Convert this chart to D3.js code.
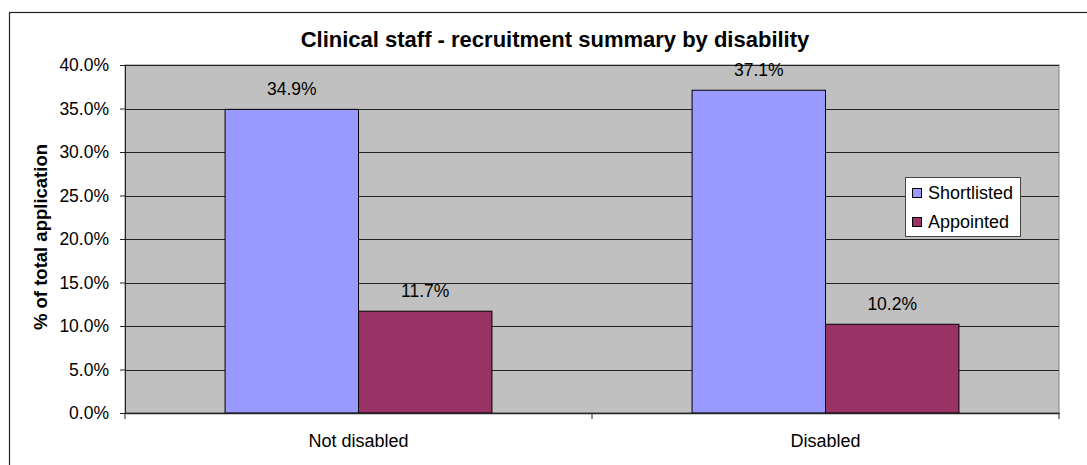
<!DOCTYPE html>
<html>
<head>
<meta charset="utf-8">
<script src="https://cdn.jsdelivr.net/npm/d3@7"></script>
<style>
  body { margin: 0; background: #fff; }
  text { font-family: "Liberation Sans", Arial, sans-serif; }
</style>
</head>
<body>
<div id="chart"></div>
<script>
// Chart data
var categories = ['Not disabled', 'Disabled'];
var seriesNames = ['Shortlisted', 'Appointed'];
var shortlisted = [0.349, 0.371];
var appointed = [0.117, 0.102];
var yTicks = [0, 0.05, 0.10, 0.15, 0.20, 0.25, 0.30, 0.35, 0.40];
var colors = ['#9999FF', '#993366'];

var values = [shortlisted, appointed];

var svg = d3.select('#chart')
  .append('svg')
  .attr('width', 1087)
  .attr('height', 465);

// Chart area border (runs off the right and bottom edges)
svg.append('rect')
  .attr('x', 9.5)
  .attr('y', 12.5)
  .attr('width', 1200)
  .attr('height', 600)
  .attr('fill', 'none')
  .attr('stroke', '#222')
  .attr('stroke-width', 1.2);

var plot = { left: 125, right: 1059, top: 65, bottom: 413 };

// Scales
var x = d3.scaleBand()
  .domain(categories)
  .range([plot.left, plot.right])
  .paddingInner(0)
  .paddingOuter(0);

var xInner = d3.scaleBand()
  .domain(seriesNames)
  .range([0, x.bandwidth()])
  .paddingInner(0)
  .paddingOuter(0.75);

var y = d3.scaleLinear()
  .domain([0, 0.4])
  .range([plot.bottom, plot.top]);

// Plot background
svg.append('rect')
  .attr('x', plot.left)
  .attr('y', plot.top)
  .attr('width', plot.right - plot.left)
  .attr('height', plot.bottom - plot.top)
  .attr('fill', '#C0C0C0')
  .attr('stroke', '#808080')
  .attr('stroke-width', 1);

// Gridlines
svg.append('g')
  .selectAll('line')
  .data(yTicks.slice(1))
  .enter()
  .append('line')
  .attr('x1', plot.left)
  .attr('x2', plot.right)
  .attr('y1', function(d) { return Math.round(y(d)) + 0.5; })
  .attr('y2', function(d) { return Math.round(y(d)) + 0.5; })
  .attr('stroke', '#222')
  .attr('stroke-width', 1);

// Bars
var groups = svg.append('g')
  .selectAll('g')
  .data(seriesNames)
  .enter()
  .append('g')
  .attr('fill', function(d, i) { return colors[i]; });

groups.selectAll('rect')
  .data(function(s, i) {
    return categories.map(function(c, j) { return { cat: c, series: s, value: values[i][j] }; });
  })
  .enter()
  .append('rect')
  .attr('x', function(d) { return x(d.cat) + xInner(d.series); })
  .attr('y', function(d) { return y(d.value); })
  .attr('width', xInner.bandwidth())
  .attr('height', function(d) { return y(0) - y(d.value); })
  .attr('stroke', '#000')
  .attr('stroke-width', 1);

// Value labels
groups.selectAll('.value-label')
  .data(function(s, i) {
    return categories.map(function(c, j) { return { cat: c, series: s, value: values[i][j] }; });
  })
  .enter()
  .append('text')
  .attr('class', 'value-label')
  .attr('x', function(d) { return x(d.cat) + xInner(d.series) + xInner.bandwidth() / 2; })
  .attr('y', function(d) { return y(d.value) - 14; })
  .attr('text-anchor', 'middle')
  .attr('fill', '#000')
  .style('font-size', '17.5px')
  .text(function(d) { return d3.format('.1%')(d.value); });

// Y axis
var yAxis = svg.append('g')
  .attr('transform', 'translate(' + plot.left + ',0)')
  .call(d3.axisLeft(y)
    .tickValues(yTicks)
    .tickFormat(d3.format('.1%'))
    .tickSize(5)
    .tickPadding(11));
yAxis.select('.domain').attr('stroke', '#222');
yAxis.selectAll('.tick line').attr('stroke', '#222');
yAxis.selectAll('.tick text')
  .style('font-size', '17.5px')
  .style('font-family', '"Liberation Sans", Arial, sans-serif')
  .attr('fill', '#000');

// X axis
var xAxis = svg.append('g')
  .attr('transform', 'translate(0,' + plot.bottom + ')')
  .call(d3.axisBottom(x).tickSize(0).tickPadding(0));
xAxis.select('.domain').attr('stroke', '#222').attr('stroke-width', 1.5);
xAxis.selectAll('.tick text')
  .attr('y', 34)
  .attr('dy', 0)
  .style('font-size', '18px')
  .style('font-family', '"Liberation Sans", Arial, sans-serif')
  .attr('fill', '#000');

// Category boundary ticks
xAxis.selectAll('.cat-tick')
  .data(categories.concat(['end']))
  .enter()
  .append('line')
  .attr('class', 'cat-tick')
  .attr('x1', function(d, i) { return i < categories.length ? x(d) : plot.right; })
  .attr('x2', function(d, i) { return i < categories.length ? x(d) : plot.right; })
  .attr('y1', 0)
  .attr('y2', 6)
  .attr('stroke', '#222');

// Title
svg.append('text')
  .attr('x', 555)
  .attr('y', 47)
  .attr('text-anchor', 'middle')
  .style('font-size', '22px')
  .style('font-weight', 'bold')
  .text('Clinical staff - recruitment summary by disability');

// Y axis title
svg.append('text')
  .attr('transform', 'translate(47,237) rotate(-90)')
  .attr('text-anchor', 'middle')
  .style('font-size', '18.5px')
  .style('font-weight', 'bold')
  .text('% of total application');

// Legend
var legend = svg.append('g')
  .attr('transform', 'translate(905,177)');

legend.append('rect')
  .attr('x', 0.5)
  .attr('y', 0.5)
  .attr('width', 115)
  .attr('height', 59)
  .attr('fill', '#fff')
  .attr('stroke', '#444');

var items = legend.selectAll('.item')
  .data(seriesNames)
  .enter()
  .append('g')
  .attr('class', 'item')
  .attr('transform', function(d, i) { return 'translate(0,' + (i * 29) + ')'; });

items.append('rect')
  .attr('x', 7.5)
  .attr('y', 11.5)
  .attr('width', 9)
  .attr('height', 9)
  .attr('fill', function(d, i) { return colors[i]; })
  .attr('stroke', '#000');

items.append('text')
  .attr('x', 23)
  .attr('y', 21.5)
  .style('font-size', '18px')
  .text(function(d) { return d; });
</script>
</body>
</html>
